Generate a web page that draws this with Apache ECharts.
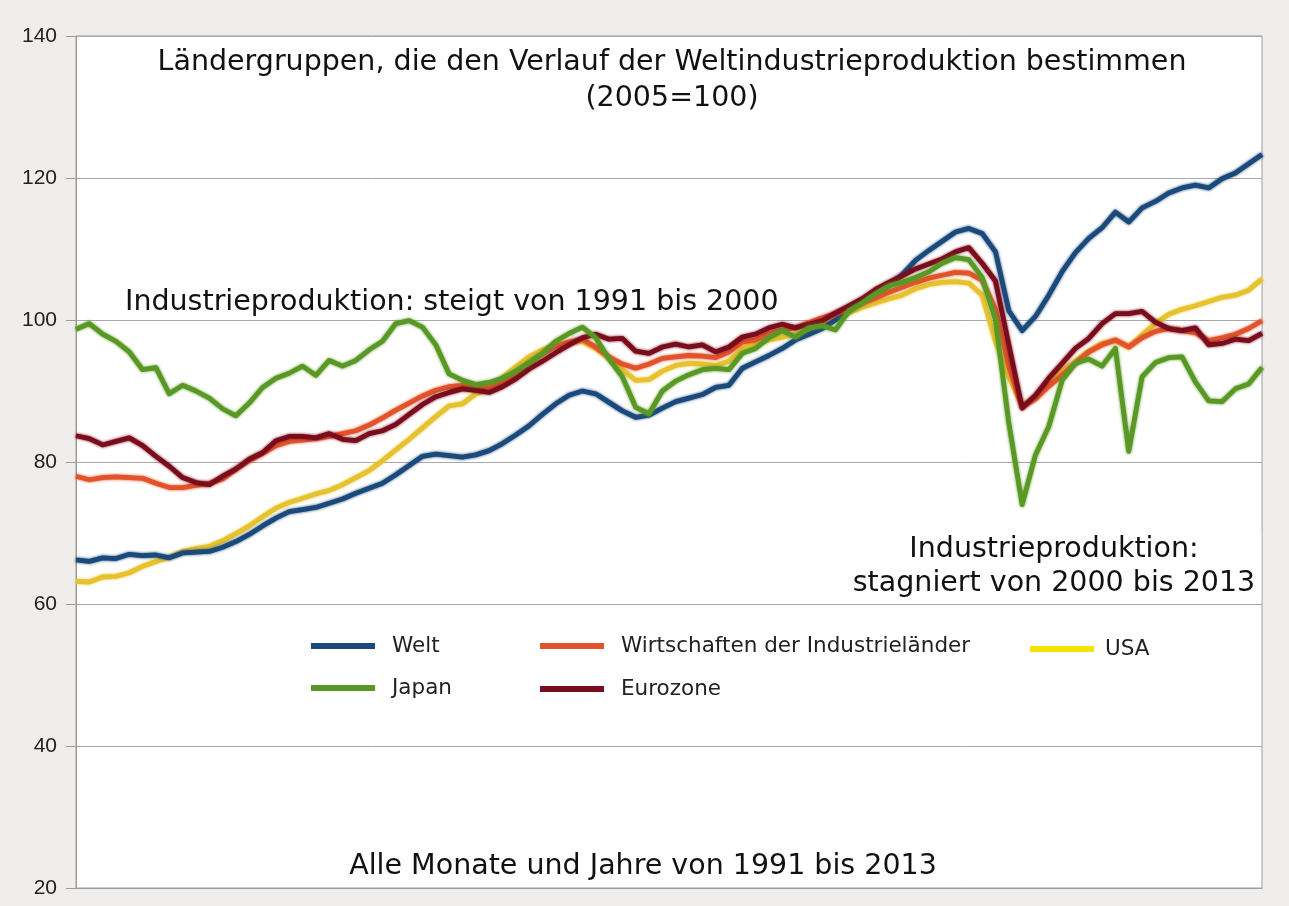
<!DOCTYPE html>
<html>
<head>
<meta charset="utf-8">
<script src="https://cdn.jsdelivr.net/npm/echarts@6/dist/echarts.min.js"></script>
<style>
  html, body { margin: 0; padding: 0; background: #efeeec; }
  #chart { width: 1289px; height: 906px; }
</style>
</head>
<body>
<div id="chart"></div>
<script>
// Quartale 1991 Q1 bis 2013 Q2 (2005 = 100)
const years = [];
for (let y = 1991; y <= 2013; y++) {
  for (let q = 1; q <= 4; q++) {
    if (y === 2013 && q > 2) break;
    years.push(y + ' Q' + q);
  }
}

const welt = [
  66.2, 66.0, 66.5, 66.4, 67.0, 66.8, 66.9, 66.5, 67.2, 67.3,
  67.4, 68.0, 68.8, 69.8, 71.0, 72.1, 73.0, 73.3, 73.6, 74.2,
  74.8, 75.6, 76.3, 77.0, 78.2, 79.5, 80.8, 81.1, 80.9, 80.7,
  81.0, 81.6, 82.6, 83.8, 85.1, 86.7, 88.2, 89.4, 90.0, 89.6,
  88.4, 87.2, 86.3, 86.6, 87.6, 88.5, 89.0, 89.5, 90.5, 90.8,
  93.2, 94.1, 95.0, 96.0, 97.2, 98.0, 98.8, 100.0, 101.3, 102.6,
  103.5, 104.8, 106.4, 108.4, 109.8, 111.1, 112.4, 112.9, 112.2, 109.6,
  101.3, 98.5, 100.5, 103.5, 106.8, 109.5, 111.5, 113.0, 115.2, 113.8,
  115.8, 116.7, 117.9, 118.6, 119.0, 118.6, 119.9, 120.7, 122.0, 123.3
];

const industrielaender = [
  78.0, 77.5, 77.8, 77.9, 77.8, 77.7, 77.0, 76.4, 76.4, 76.7,
  77.0, 77.6, 79.0, 80.2, 81.2, 82.3, 82.9, 83.1, 83.3, 83.6,
  84.0, 84.4, 85.2, 86.2, 87.3, 88.3, 89.3, 90.1, 90.6, 90.8,
  90.7, 90.6, 91.2, 92.2, 93.9, 95.2, 96.3, 96.9, 97.3, 96.2,
  94.8, 93.8, 93.2, 93.8, 94.6, 94.8, 95.0, 94.9, 94.7, 95.5,
  96.9, 97.2, 98.1, 98.6, 98.9, 99.6, 100.3, 100.9, 101.6, 102.4,
  103.1, 103.9, 104.6, 105.3, 105.9, 106.3, 106.7, 106.6, 105.6, 101.5,
  93.5, 87.7, 88.9, 90.7, 92.2, 93.9, 95.5, 96.5, 97.2, 96.2,
  97.5, 98.4, 98.8, 98.5, 98.2, 97.1, 97.5, 98.0, 98.8, 99.9
];

const usa = [
  63.2, 63.1, 63.8, 63.9, 64.4, 65.3, 66.0, 66.6, 67.4, 67.8,
  68.1, 68.9, 69.9, 71.0, 72.3, 73.5, 74.3, 74.9, 75.5, 76.0,
  76.8, 77.8, 78.8, 80.2, 81.7, 83.2, 84.8, 86.4, 87.9, 88.2,
  89.6, 90.2, 91.9, 93.4, 94.8, 95.8, 96.5, 96.8, 97.0, 96.0,
  94.6, 93.0, 91.5, 91.6, 92.8, 93.6, 93.9, 93.8, 93.6, 94.2,
  96.0, 96.6, 97.2, 97.6, 98.0, 98.6, 99.5, 100.2, 101.0, 101.8,
  102.4, 103.0, 103.5, 104.4, 105.0, 105.3, 105.4, 105.2, 103.5, 97.0,
  92.0, 88.0, 89.0, 90.9, 92.9, 94.2, 95.6, 96.7, 97.1, 96.2,
  97.9, 99.5, 100.8, 101.5, 102.0, 102.6, 103.2, 103.5, 104.2, 105.8
];

const japan = [
  98.7, 99.5, 98.0, 97.0, 95.5, 93.0, 93.3, 89.6, 90.8, 90.0,
  89.0, 87.5, 86.5, 88.3, 90.5, 91.8, 92.5, 93.5, 92.2, 94.3,
  93.5, 94.3, 95.8, 97.0, 99.5, 99.9, 99.0, 96.5, 92.4, 91.5,
  90.9, 91.2, 91.8, 92.8, 94.0, 95.3, 97.0, 98.1, 99.0, 97.5,
  94.5, 92.0, 87.7, 86.8, 90.0, 91.4, 92.3, 93.0, 93.2, 93.0,
  95.3, 96.0, 97.5, 98.5, 97.6, 98.9, 99.2, 98.6, 101.3, 102.4,
  103.7, 104.8, 105.3, 106.0, 106.8, 108.0, 108.8, 108.5, 106.0, 100.0,
  85.5, 74.0, 81.0, 85.0, 91.5, 93.9, 94.5, 93.5, 96.0, 81.5,
  92.0, 94.0, 94.7, 94.8, 91.3, 88.6, 88.5, 90.3, 91.0, 93.3
];

const eurozone = [
  83.7, 83.3, 82.4, 82.9, 83.4, 82.3, 80.8, 79.4, 77.8, 77.1,
  76.8, 78.0, 79.0, 80.4, 81.3, 83.0, 83.6, 83.6, 83.4, 84.0,
  83.2, 83.0, 84.0, 84.4, 85.3, 86.7, 88.1, 89.2, 89.8, 90.3,
  90.1, 89.8, 90.6, 91.7, 93.1, 94.2, 95.4, 96.5, 97.5, 98.0,
  97.3, 97.4, 95.6, 95.3, 96.2, 96.6, 96.2, 96.5, 95.5, 96.2,
  97.6, 98.0, 98.9, 99.4, 98.9, 99.4, 99.9, 101.0, 102.0, 103.0,
  104.3, 105.3, 106.2, 107.2, 107.9, 108.6, 109.6, 110.2, 108.0, 105.5,
  96.5, 87.6, 89.4, 91.8, 93.9, 96.0, 97.4, 99.5, 100.9, 100.9,
  101.2, 99.7, 98.8, 98.5, 98.9, 96.5, 96.7, 97.3, 97.1, 98.1
];

const yTicks = [20, 40, 60, 80, 100, 120, 140];

const chart = echarts.init(document.getElementById('chart'));

const textFont = '28.5px "DejaVu Sans"';

// Legende in zwei Zeilen, jeder Eintrag einzeln platziert
const legendBox = (name, left, top, color, gap = 12) => ({
  data: [color ? { name, itemStyle: { color } } : name],
  left,
  top,
  padding: 0,
  icon: 'rect',
  itemWidth: 64,
  itemHeight: 6,
  selectedMode: false,
  textStyle: {
    fontFamily: 'DejaVu Sans',
    fontSize: 21.5,
    color: '#222',
    padding: [0, 0, 0, gap],
  },
});

const line = (name, data, color) => ({
  name,
  type: 'line',
  data,
  showSymbol: false,
  symbol: 'none',
  lineStyle: {
    color,
    width: 4.8,
    join: 'round',
    shadowColor: color,
    shadowBlur: 3,
  },
  itemStyle: { color },
  emphasis: { disabled: true },
});

chart.setOption({
  animation: false,
  backgroundColor: '#efeeec',
  grid: {
    left: 76,
    right: 27,
    top: 36,
    bottom: 18,
    show: true,
    backgroundColor: '#ffffff',
    borderColor: '#9c9c9c',
    borderWidth: 1,
  },
  xAxis: {
    type: 'category',
    data: years,
    boundaryGap: false,
    axisLabel: { show: false },
    axisTick: { show: false },
    axisLine: { lineStyle: { color: '#9c9c9c' } },
  },
  yAxis: {
    type: 'value',
    min: yTicks[0],
    max: yTicks[yTicks.length - 1],
    interval: 20,
    axisLine: { show: true, lineStyle: { color: '#9c9c9c' } },
    axisTick: { show: true, length: 10, lineStyle: { color: '#9c9c9c' } },
    axisLabel: {
      fontFamily: 'Liberation Sans',
      fontSize: 21,
      color: '#222',
      margin: 19,
    },
    splitLine: { lineStyle: { color: '#a8a8a8', width: 1 } },
  },
  legend: [
    legendBox('Welt', 311, 635),
    legendBox('Wirtschaften der Industrieländer', 540, 635),
    legendBox('USA', 1030, 638, '#f4e400', 6),
    legendBox('Japan', 311, 677),
    legendBox('Eurozone', 540, 678),
  ],
  series: [
    line('USA', usa, '#e6c22e'),
    line('Welt', welt, '#1b4a7a'),
    line('Wirtschaften der Industrieländer', industrielaender, '#e2532b'),
    line('Eurozone', eurozone, '#7a0d1d'),
    line('Japan', japan, '#5a9826'),
  ],
  graphic: [
    {
      type: 'text',
      style: {
        text: 'Ländergruppen, die den Verlauf der Weltindustrieproduktion bestimmen',
        x: 672, y: 63, textAlign: 'center', textVerticalAlign: 'middle',
        font: textFont, fill: '#111',
      },
    },
    {
      type: 'text',
      style: {
        text: '(2005=100)',
        x: 672, y: 99, textAlign: 'center', textVerticalAlign: 'middle',
        font: textFont, fill: '#111',
      },
    },
    {
      type: 'text',
      style: {
        text: 'Industrieproduktion: steigt von 1991 bis 2000',
        x: 125, y: 303, textAlign: 'left', textVerticalAlign: 'middle',
        font: textFont, fill: '#111',
      },
    },
    {
      type: 'text',
      z: 10,
      style: {
        text: 'Industrieproduktion:\nstagniert von 2000 bis 2013',
        x: 1054, y: 567, textAlign: 'center', textVerticalAlign: 'middle',
        font: textFont, fill: '#111', lineHeight: 34,
        backgroundColor: '#ffffff', padding: [2, 6, 2, 6],
      },
    },
    {
      type: 'text',
      style: {
        text: 'Alle Monate und Jahre von 1991 bis 2013',
        x: 643, y: 867, textAlign: 'center', textVerticalAlign: 'middle',
        font: textFont, fill: '#111',
      },
    },
  ],
});
</script>
</body>
</html>
